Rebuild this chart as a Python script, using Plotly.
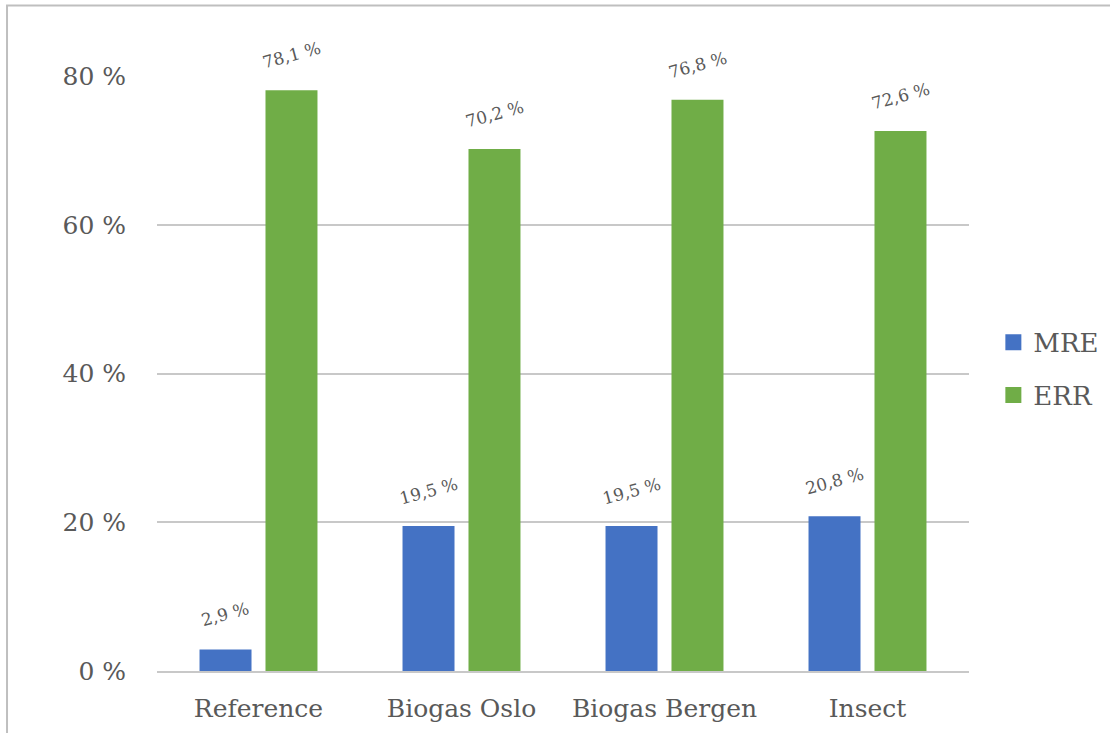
import plotly.graph_objects as go

categories = ["Reference", "Biogas Oslo", "Biogas Bergen", "Insect"]
mre_values = [2.9, 19.5, 19.5, 20.8]
err_values = [78.1, 70.2, 76.8, 72.6]
series_names = ["MRE", "ERR"]
series_colors = ["#4472C4", "#70AD47"]
y_tick_values = [0, 20, 40, 60, 80]
y_tick_labels = ["0 %", "20 %", "40 %", "60 %", "80 %"]

FONT = "DejaVu Serif"
TEXT_COLOR = "#595959"

def fmt(v):
    return f"{v:.1f}".replace(".", ",") + " %"

fig = go.Figure()
for name, vals, col, grp in [(series_names[0], mre_values, series_colors[0], "a"),
                             (series_names[1], err_values, series_colors[1], "b")]:
    fig.add_trace(go.Bar(
        x=categories, y=vals, name=name, marker_color=col,
        marker_line_width=0, legendgroup=grp, showlegend=False,
    ))
    # legend entry with a larger square swatch
    fig.add_trace(go.Scatter(
        x=[None], y=[None], mode="markers", name=name, legendgroup=grp,
        marker=dict(symbol="square", size=16, color=col),
    ))

annotations = []
for vals, shift in [(mre_values, -33), (err_values, 33)]:
    for c, v in zip(categories, vals):
        annotations.append(dict(
            x=c, y=v, xref="x", yref="y", text=fmt(v), showarrow=False,
            textangle=-15, xshift=shift, yshift=35,
            font=dict(family=FONT, size=17, color=TEXT_COLOR),
        ))

fig.update_layout(
    width=1110, height=733,
    margin=dict(l=157, r=141, t=76, b=62, autoexpand=False),
    paper_bgcolor="white", plot_bgcolor="white",
    barmode="group", bargap=0.35, bargroupgap=0.212,
    font=dict(family=FONT, size=25, color=TEXT_COLOR),
    showlegend=True,
    legend=dict(x=1.03, y=0.508, xanchor="left", yanchor="middle",
                font=dict(family=FONT, size=26, color=TEXT_COLOR),
                tracegroupgap=16, itemwidth=30, itemsizing="trace"),
    annotations=annotations,
    shapes=[dict(type="rect", xref="paper", yref="paper",
                 x0=-0.1847, x1=1.3, y0=-0.2, y1=1.1185,
                 line=dict(color="#BFBFBF", width=2), fillcolor="rgba(0,0,0,0)",
                 layer="below")],
)
fig.update_xaxes(showgrid=False, showline=True, linecolor="#C8C8C8", linewidth=2,
                 ticks="", ticklabelstandoff=14, automargin=False,
                 tickfont=dict(family=FONT, size=25, color=TEXT_COLOR))
fig.update_yaxes(range=[0, 80], tickvals=y_tick_values, ticktext=y_tick_labels,
                 showgrid=True, gridcolor="#C8C8C8", gridwidth=2, zeroline=False,
                 showline=False, ticks="", ticklabelstandoff=30, automargin=False,
                 tickfont=dict(family=FONT, size=25, color=TEXT_COLOR))

fig.write_html("out.html")
